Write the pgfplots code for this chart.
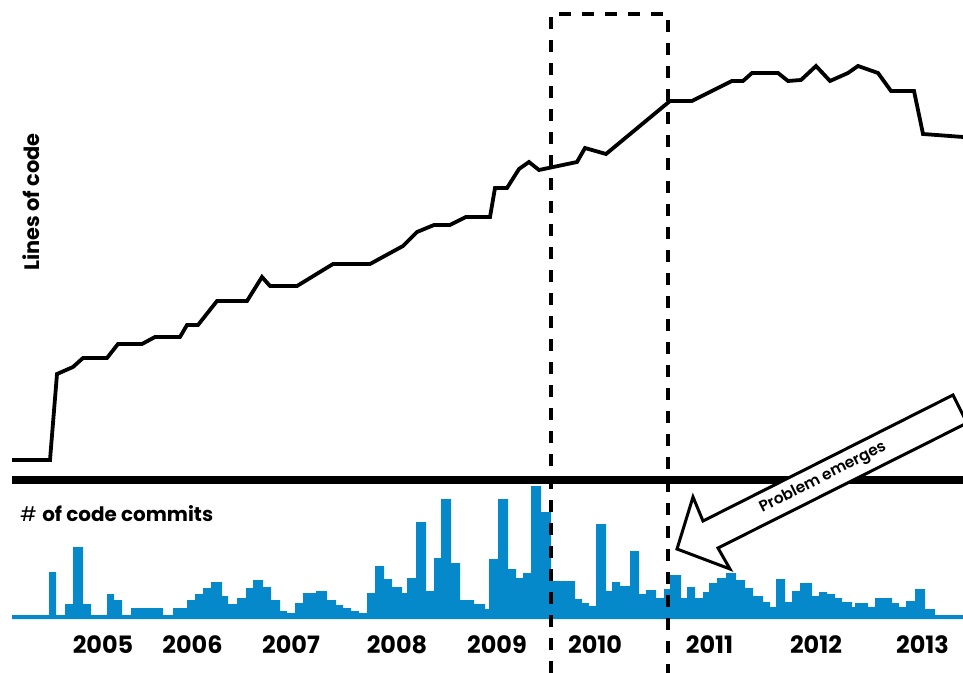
\documentclass[border=0pt]{standalone}
\usepackage{fontspec}
\setmainfont{Poppins}
\newfontfamily\popmed{Poppins SemiBold}
\usepackage{pgfplots}
\pgfplotsset{compat=1.18}
\definecolor{barblue}{HTML}{0689CA}
\begin{document}
\begin{tikzpicture}
\begin{axis}[name=bars, at={(0,0)}, anchor=south west, scale only axis,
  width=963bp, height=200bp, xmin=0, xmax=963, ymin=0, ymax=200,
  axis line style={draw=none}, major tick length=0pt, ytick=\empty,
  xtick={103,192.5,291,397,497,595,709.5,816,922.5},
  xticklabels={2005,2006,2007,2008,2009,2010,2011,2012,2013},
  xticklabel style={anchor=base, yshift=-34bp, font=\fontsize{24}{24}\selectfont\bfseries},
  clip=false]
\addplot[ybar interval, fill=barblue, draw=none] coordinates {
(12,4) (49,47) (56,4) (65,15) (73,72) (83,15) (91,4) (107,25) (114,19) (122,4)
(131,11) (163,4) (173,11) (187,19) (195,25) (203,31) (211,37) (222,23) (228,15) (237,21)
(246,31) (253,39) (263,32) (271,19) (280,8) (287,6) (295,16) (303,26) (316,28) (327,19)
(336,14) (343,11) (351,8) (359,6) (367,26) (375,53) (384,40) (392,32) (402,26) (407,41)
(416,97) (426,28) (434,61) (441,120) (451,56) (460,19) (474,15) (485,10) (489,60) (498,120)
(508,50) (516,41) (523,46) (531,133) (541,107) (551,38) (575,20) (582,16) (589,13) (596,95)
(606,28) (612,37) (620,33) (630,68) (639,25) (646,29) (656,21) (664,30) (670,44) (681,21)
(687,32) (695,21) (703,27) (709,36) (717,41) (726,46) (736,39) (745,31) (753,23) (763,17)
(770,12) (776,40) (785,17) (792,28) (800,36) (812,23) (819,27) (827,25) (835,21) (842,17)
(852,12) (855,16) (868,12) (875,21) (892,16) (899,12) (906,18) (915,30) (925,10) (935,4)
(963,4)};
\end{axis}
\begin{axis}[at={(0,-54bp)}, anchor=south west, scale only axis,
  width=963bp, height=673bp, xmin=0, xmax=963, ymin=0, ymax=673,
  hide axis, clip=false]
% separator
\addplot[black, line width=8bp, forget plot] coordinates {(12,193) (963,193)};
% lines of code
\addplot[black, line width=3.8bp, line join=miter] coordinates {
(12,213) (50,213) (57,299) (73,306) (83,315) (107,315) (118,329) (142,329)
(155,336) (180,336) (187,348) (198,348) (217,372) (247,372) (262,396) (270,387)
(297,387) (333,409) (370,409) (403,427) (417,441) (434,448) (450,448) (466,456)
(490,456) (495,485) (507,485) (519,504) (529,511) (539,503) (577,511) (585,525)
(606,519) (670,572) (692,572) (732,592) (743,592) (752,600) (778,600) (788,592)
(801,593) (816,607) (830,592) (848,600) (858,607) (878,600) (891,582) (914,582)
(923,539) (963,536)};
% dashed box
\draw[black, line width=3.6bp, dash pattern=on 12bp off 11bp]
  (axis cs:551,0) -- (axis cs:551,659) -- (axis cs:668,659) -- (axis cs:668,0);
% arrow
\draw[black, fill=white, line width=3bp, line join=miter]
  (axis cs:677,124) -- (axis cs:693,176) -- (axis cs:703,152) -- (axis cs:953,278)
  -- (axis cs:967,250) -- (axis cs:718,125) -- (axis cs:730,104) -- cycle;
\node[rotate=26.7, font=\popmed\fontsize{15.5}{15.5}\selectfont] at (axis cs:823,195) {Problem emerges};
\node[rotate=90, font=\fontsize{21}{21}\selectfont\bfseries] at (axis cs:31,471) {Lines of code};
\node[anchor=base west, inner sep=0pt, font=\fontsize{20}{20}\selectfont] at (axis cs:20,151) {\#\ \textbf{of code commits}};
\end{axis}
\pgfresetboundingbox
\path[use as bounding box] (0,-54bp) rectangle (963bp,619bp);
\end{tikzpicture}
\end{document}
